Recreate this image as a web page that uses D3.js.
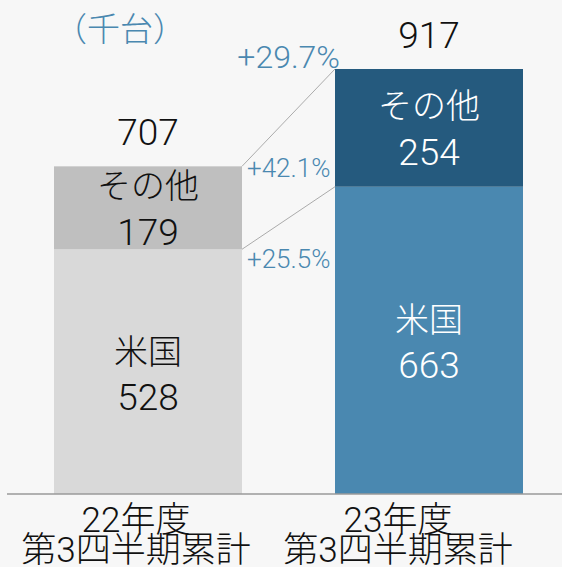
<!DOCTYPE html>
<html>
<head>
<meta charset="utf-8">
<script src="https://cdn.jsdelivr.net/npm/d3@7"></script>
<style>
  html, body { margin: 0; padding: 0; background: #f7f7f7; }
  svg { display: block; }
  text { font-family: Roboto, "Noto Sans CJK JP", sans-serif; font-weight: 300; }
</style>
</head>
<body>
<div id="chart"></div>
<script>
const width = 562;
const height = 567;

// データ（千台）
const periods = ["22年度", "23年度"];
const periodSub = ["第3四半期累計", "第3四半期累計"];
const usValues = [528, 663];
const otherValues = [179, 254];
const totals = [707, 917];
const growthLabels = ["+29.7%", "+42.1%", "+25.5%"];
const unitLabel = "（千台）";

const colors = {
  us: ["#d9d9d9", "#4a88b0"],
  other: ["#bfbfbf", "#255a7e"],
  text: ["#111", "#fff"]
};

const svg = d3.select("#chart").append("svg")
  .attr("width", width)
  .attr("height", height);

svg.append("rect")
  .attr("width", width)
  .attr("height", height)
  .attr("fill", "#f7f7f7");

const x = d3.scaleBand()
  .domain(periods)
  .range([54, 523])
  .paddingInner(0.331)
  .paddingOuter(0);

const y = d3.scaleLinear()
  .domain([0, 917])
  .range([494, 69]);

const rows = periods.map((p, i) => ({
  period: p,
  sub: periodSub[i],
  us: usValues[i],
  other: otherValues[i],
  total: totals[i],
  i: i
}));

// 米国
svg.selectAll("rect.us")
  .data(rows)
  .enter().append("rect")
  .attr("class", "us")
  .attr("x", d => x(d.period))
  .attr("width", x.bandwidth())
  .attr("y", d => y(d.us))
  .attr("height", d => y(0) - y(d.us))
  .attr("fill", d => colors.us[d.i]);

// その他
svg.selectAll("rect.other")
  .data(rows)
  .enter().append("rect")
  .attr("class", "other")
  .attr("x", d => x(d.period))
  .attr("width", x.bandwidth())
  .attr("y", d => y(d.us + d.other))
  .attr("height", d => y(d.us) - y(d.us + d.other))
  .attr("fill", d => colors.other[d.i]);

// 軸線
svg.append("line")
  .attr("x1", 7)
  .attr("x2", width)
  .attr("y1", y(0))
  .attr("y2", y(0))
  .attr("stroke", "#9a9a9a")
  .attr("stroke-width", 1.5);

// 接続線
const x0 = x(periods[0]) + x.bandwidth();
const x1 = x(periods[1]);
["total", "us"].forEach(k => {
  svg.append("line")
    .attr("x1", x0)
    .attr("x2", x1)
    .attr("y1", y(rows[0][k]))
    .attr("y2", y(rows[1][k]))
    .attr("stroke", "#ababab")
    .attr("stroke-width", 1);
});

const cx = d => x(d.period) + x.bandwidth() / 2;

// 合計ラベル
svg.selectAll("text.total")
  .data(rows)
  .enter().append("text")
  .attr("class", "total")
  .attr("x", cx)
  .attr("y", d => y(d.total) - 21)
  .attr("text-anchor", "middle")
  .attr("fill", "#111")
  .style("font-size", "37px")
  .text(d => d.total);

// セグメントラベル
const segLabels = [];
rows.forEach(d => {
  const mOther = (y(d.us) + y(d.us + d.other)) / 2;
  const mUs = (y(0) + y(d.us)) / 2;
  segLabels.push({ d: d, y: mOther - 10, t: "その他", s: 34 });
  segLabels.push({ d: d, y: mOther + 37, t: d.other, s: 37 });
  segLabels.push({ d: d, y: mUs - 8, t: "米国", s: 34 });
  segLabels.push({ d: d, y: mUs + 38, t: d.us, s: 37 });
});

svg.selectAll("text.seg")
  .data(segLabels)
  .enter().append("text")
  .attr("class", "seg")
  .attr("x", s => cx(s.d))
  .attr("y", s => s.y)
  .attr("text-anchor", "middle")
  .attr("fill", s => colors.text[s.d.i])
  .style("font-size", s => s.s + "px")
  .text(s => s.t);

// 伸び率
const pctColor = "#4a88b0";
svg.append("text")
  .attr("x", x1 + 5)
  .attr("y", y(rows[1].total) - 1)
  .attr("text-anchor", "end")
  .attr("fill", pctColor)
  .style("font-size", "32px")
  .text(growthLabels[0]);

svg.append("text")
  .attr("x", x0 + 5)
  .attr("y", y(rows[0].total) + 11)
  .attr("fill", pctColor)
  .style("font-size", "26px")
  .text(growthLabels[1]);

svg.append("text")
  .attr("x", x0 + 5)
  .attr("y", y(rows[0].us) + 19)
  .attr("fill", pctColor)
  .style("font-size", "26px")
  .text(growthLabels[2]);

// 単位
svg.append("text")
  .attr("x", 120)
  .attr("y", 41)
  .attr("text-anchor", "middle")
  .attr("fill", pctColor)
  .style("font-size", "33px")
  .text(unitLabel);

// カテゴリラベル
const labelShift = [-12, -31];
const cat = svg.selectAll("text.cat")
  .data(rows)
  .enter().append("text")
  .attr("class", "cat")
  .attr("text-anchor", "middle")
  .attr("fill", "#111")
  .style("font-size", "35px");

cat.append("tspan")
  .attr("x", d => cx(d) + labelShift[d.i])
  .attr("y", 532)
  .text(d => d.period);

cat.append("tspan")
  .attr("x", d => cx(d) + labelShift[d.i])
  .attr("y", 562)
  .text(d => d.sub);
</script>
</body>
</html>
